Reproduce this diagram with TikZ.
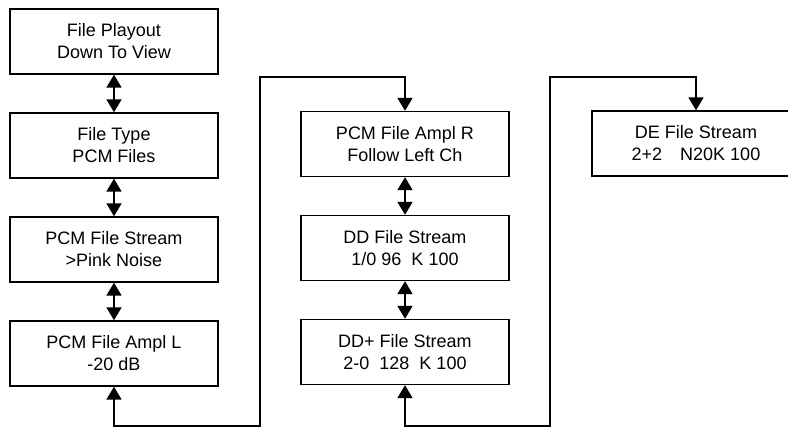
\documentclass[tikz,border=0pt]{standalone}
\usepackage{fontspec}
\setmainfont{Liberation Sans}
\usepackage{tikz}
\usetikzlibrary{arrows.meta}
\tikzset{menu/.style={draw, line width=1.4pt, minimum width=208pt, minimum height=65pt, align=center, inner sep=0pt, font=\fontsize{18}{22}\selectfont}}
\tikzset{link/.style={line width=1.8pt, {Triangle[length=13pt,width=15pt]}-{Triangle[length=13pt,width=15pt]}}}

\begin{document}
\begin{tikzpicture}[x=1pt,y=-1pt]
\clip (0,0) rectangle (788,427);
\begin{scope}[every node/.style={menu}]
   \node (L1) at (114,41.5) {File Playout\\Down To View};
   \node (L2) at (114,145.5) {File Type\\PCM Files};
   \node (L3) at (114,249.5) {PCM File Stream\\>Pink Noise};
   \node (L4) at (114,353.5) {PCM File Ampl L\\-20 dB};
   \node (R1) at (405,144) {PCM File Ampl R\\Follow Left Ch};
   \node (R2) at (405,248) {DD File Stream\\1/0 96\ \ K 100};
   \node (R3) at (405,352) {DD+ File Stream\\2-0\ \ 128\ \ K 100};
   \node (E1) at (696,143.5) {DE File Stream\\2+2\hspace{18pt}N20K 100};
\end{scope}
 \coordinate (b1) at (260,426);
 \coordinate (t1) at (260,77);
 \coordinate (b2) at (550,426);
 \coordinate (t2) at (550,77);
 \draw[link] (L1)--(L2);
 \draw[link] (L2)--(L3);
 \draw[link] (L3)--(L4);
 \draw[link] (R1)--(R2);
 \draw[link] (R2)--(R3);
 \draw[link] (L4.south) |- (b1) -- (t1) -| (R1.north);
 \draw[link] (R3.south) |- (b2) -- (t2) -| (E1.north);
\end{tikzpicture}
\end{document}
